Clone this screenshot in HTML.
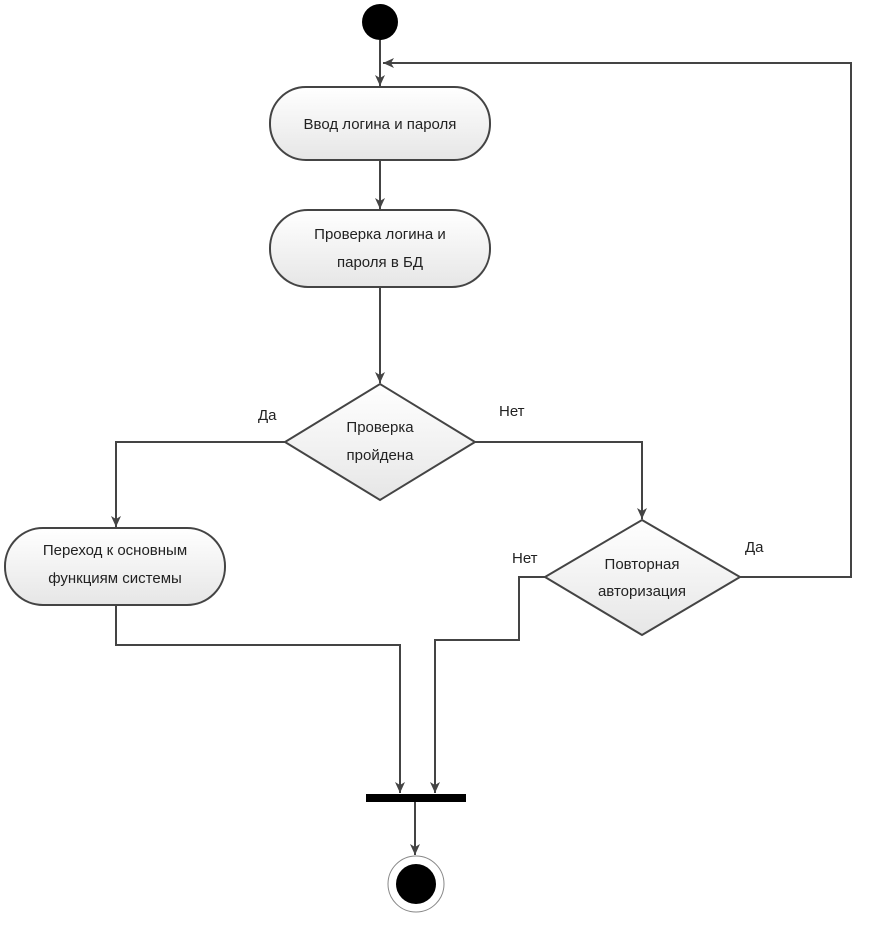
<!DOCTYPE html>
<html><head><meta charset="utf-8"><style>
html,body{margin:0;padding:0;background:#fff;}
svg{display:block;}
text{font-family:"Liberation Sans",sans-serif;font-size:15px;fill:#222;}
</style></head><body>
<svg width="869" height="926" viewBox="0 0 869 926" xmlns="http://www.w3.org/2000/svg">
<defs>
<linearGradient id="g" x1="0" y1="0" x2="0" y2="1"><stop offset="0" stop-color="#ffffff"/><stop offset="1" stop-color="#e6e6e6"/></linearGradient>
<marker id="a" markerWidth="12" markerHeight="12" refX="11" refY="6" orient="auto" markerUnits="userSpaceOnUse"><path d="M0,1 L11,6 L0,11 L3,6 Z" fill="#444"/></marker>
</defs>
<g stroke="#444" stroke-width="2" fill="none">
<line x1="380" y1="40" x2="380" y2="86" marker-end="url(#a)"/>
<polyline points="740,577 851,577 851,63 383,63" marker-end="url(#a)"/>
<line x1="380" y1="160" x2="380" y2="209" marker-end="url(#a)"/>
<line x1="380" y1="287" x2="380" y2="383" marker-end="url(#a)"/>
<polyline points="285,442 116,442 116,527" marker-end="url(#a)"/>
<polyline points="475,442 642,442 642,519" marker-end="url(#a)"/>
<polyline points="545,577 519,577 519,640 435,640 435,793" marker-end="url(#a)"/>
<polyline points="116,605 116,645 400,645 400,793" marker-end="url(#a)"/>
<line x1="415" y1="802" x2="415" y2="855" marker-end="url(#a)"/>
</g>
<circle cx="380" cy="22" r="18" fill="#000"/>
<g stroke="#444" stroke-width="2" fill="url(#g)">
<rect x="270" y="87" width="220" height="73" rx="36" ry="36"/>
<rect x="270" y="210" width="220" height="77" rx="38" ry="38"/>
<rect x="5" y="528" width="220" height="77" rx="38" ry="38"/>
<polygon points="380,384 475,442 380,500 285,442"/>
<polygon points="642,520 740,577 642,635 545,577"/>
</g>
<rect x="366" y="794" width="100" height="8" fill="#000"/>
<circle cx="416" cy="884" r="28" fill="#fff" stroke="#888" stroke-width="1"/>
<circle cx="416" cy="884" r="20" fill="#000"/>
<g text-anchor="middle">
<text x="380" y="129">Ввод логина и пароля</text>
<text x="380" y="239">Проверка логина и</text>
<text x="380" y="267">пароля в БД</text>
<text x="380" y="432">Проверка</text>
<text x="380" y="460">пройдена</text>
<text x="115" y="555">Переход к основным</text>
<text x="115" y="583">функциям системы</text>
<text x="642" y="569">Повторная</text>
<text x="642" y="596">авторизация</text>
</g>
<text x="258" y="420" font-size="13">Да</text>
<text x="499" y="416" font-size="13">Нет</text>
<text x="512" y="563" font-size="13">Нет</text>
<text x="745" y="552" font-size="13">Да</text>
</svg>
</body></html>
